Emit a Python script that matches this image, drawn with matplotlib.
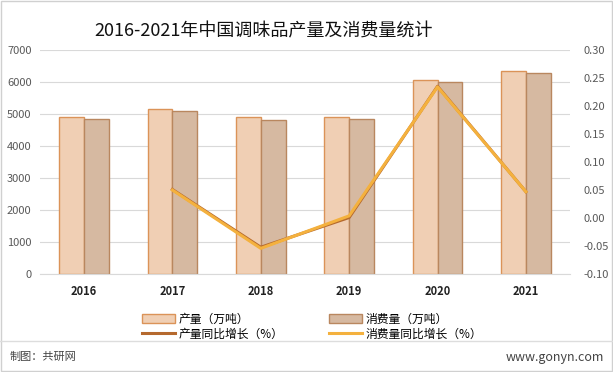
import numpy as np
import matplotlib.pyplot as plt
from matplotlib.patches import Patch
from matplotlib.lines import Line2D

plt.rcParams['font.family'] = ['Noto Sans CJK SC', 'DejaVu Sans']

years = ['2016', '2017', '2018', '2019', '2020', '2021']
production = [4895, 5155, 4905, 4905, 6060, 6345]
consumption = [4845, 5095, 4815, 4845, 6000, 6280]
prod_growth = [np.nan, 0.051, -0.052, 0.001, 0.235, 0.047]
cons_growth = [np.nan, 0.050, -0.054, 0.004, 0.234, 0.047]

c_prod_bar = '#F0CFB4'
c_prod_edge = '#DB9358'
c_cons_bar = '#D6B9A1'
c_cons_edge = '#B9875F'
c_prod_line = '#B5692E'
c_cons_line = '#F4B13E'

fig = plt.figure(figsize=(6.13, 3.72), dpi=100)
ax = fig.add_axes([0.065, 0.263, 0.865, 0.603])
ax2 = ax.twinx()

x = np.arange(len(years))
w = 0.28
ax.bar(x - w / 2, production, w, color=c_prod_bar, edgecolor=c_prod_edge, linewidth=1, zorder=2)
ax.bar(x + w / 2, consumption, w, color=c_cons_bar, edgecolor=c_cons_edge, linewidth=1, zorder=2)

ax.set_ylim(0, 7000)
ax.set_yticks(range(0, 7001, 1000))
ax.set_xlim(-0.5, len(years) - 0.5)
ax.set_xticks(x)
ax.set_xticklabels(years, fontsize=8, fontweight='bold', color='#222222')
ax.grid(axis='y', color='#D9D9D9', linewidth=0.8, zorder=0)
ax.set_axisbelow(True)
ax.tick_params(axis='y', length=0, labelsize=8, labelcolor='#595959', pad=6)
ax.tick_params(axis='x', length=0, pad=8)
for s in ['top', 'right', 'left']:
    ax.spines[s].set_visible(False)
ax.spines['bottom'].set_color('#D9D9D9')

ax2.plot(x, prod_growth, color=c_prod_line, linewidth=2.2, zorder=3)
ax2.plot(x, cons_growth, color=c_cons_line, linewidth=2.2, zorder=4)
ax2.set_ylim(-0.10, 0.30)
ax2.set_yticks(np.arange(-0.10, 0.301, 0.05))
ax2.set_yticklabels(['%.2f' % v for v in np.arange(-0.10, 0.301, 0.05)])
ax2.tick_params(axis='y', length=0, labelsize=8, labelcolor='#595959', pad=10)
for s in ['top', 'right', 'left', 'bottom']:
    ax2.spines[s].set_visible(False)

fig.text(0.43, 0.915, '2016-2021年中国调味品产量及消费量统计', ha='center', va='center',
         fontsize=13, color='#111111')

# ncol=2 fills column by column
handles = [Patch(facecolor=c_prod_bar, edgecolor=c_prod_edge, label='产量（万吨）'),
           Line2D([0], [0], color=c_prod_line, linewidth=2.2, label='产量同比增长（%）'),
           Patch(facecolor=c_cons_bar, edgecolor=c_cons_edge, label='消费量（万吨）'),
           Line2D([0], [0], color=c_cons_line, linewidth=2.2, label='消费量同比增长（%）')]
fig.legend(handles=handles, ncol=2, loc='center', bbox_to_anchor=(0.509, 0.122),
           frameon=False, fontsize=8.5, handlelength=2.8, handleheight=0.8,
           columnspacing=3.8, labelspacing=0.2, handletextpad=0.3)

fig.add_artist(Line2D([0.0, 1.0], [0.082, 0.082], color='#DDDDDD', linewidth=1))
fig.text(0.015, 0.04, '制图：共研网', fontsize=8, color='#444444', va='center')
fig.text(0.985, 0.04, 'www.gonyn.com', fontsize=9, color='#444444', va='center', ha='right')
fig.add_artist(plt.Rectangle((0.002, 0.003), 0.996, 0.994, fill=False,
                             edgecolor='#D0D0D0', linewidth=1, transform=fig.transFigure))

fig.savefig('out.png', dpi=100)
